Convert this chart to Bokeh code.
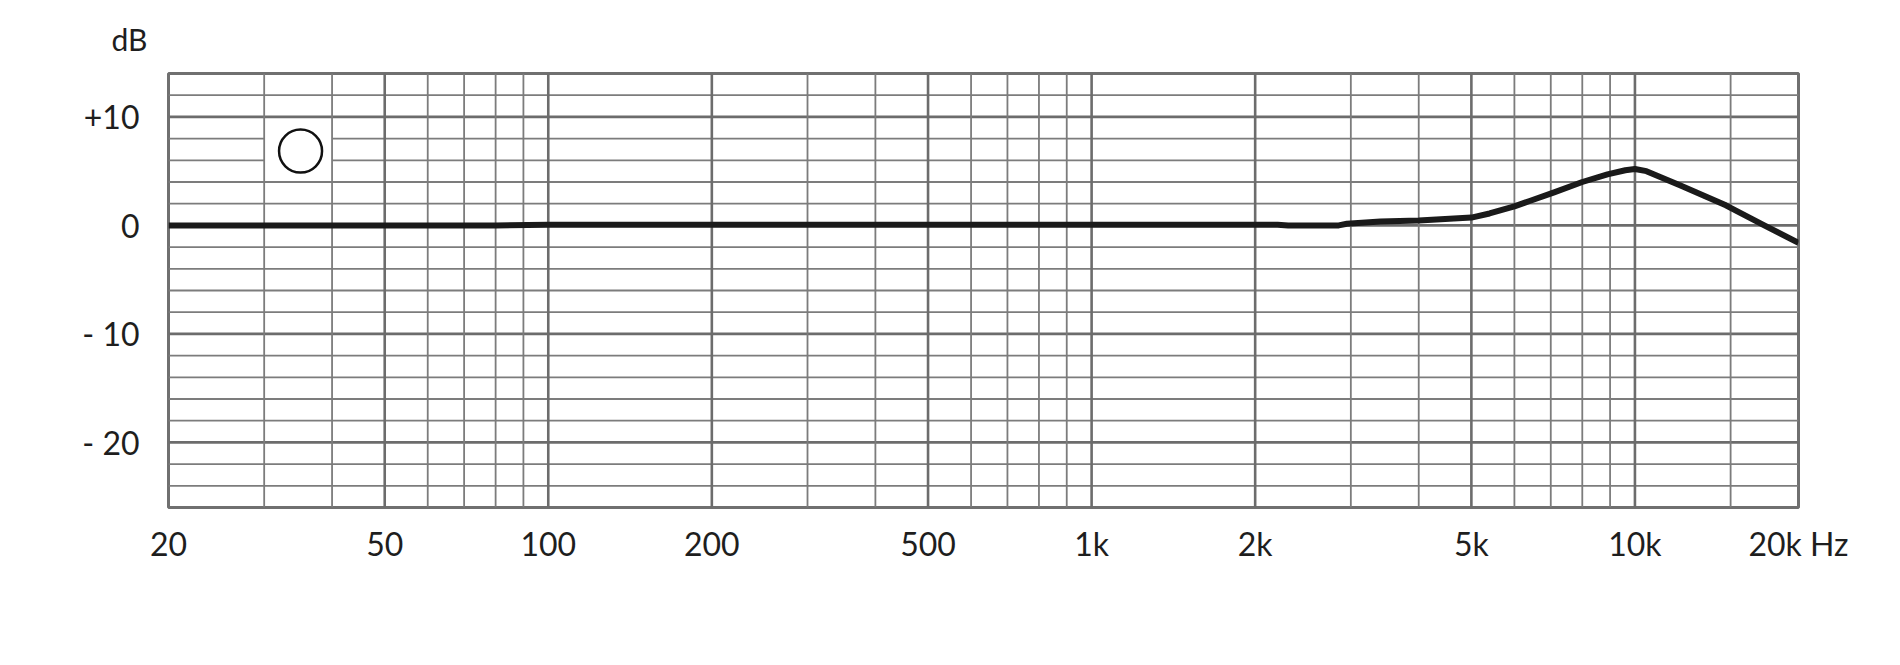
"""Reponse en frequence d'un micro omnidirectionnel, grille log 20 Hz - 20 kHz."""

from bokeh.embed import file_html
from bokeh.models import FixedTicker, Range1d
from bokeh.plotting import figure
from bokeh.resources import INLINE

# courbe (Hz, dB)
FREQ_HZ = [20, 80, 100, 200, 500, 1000, 2200, 2300, 2850, 2950, 3400, 4000, 5000,
           5400, 6000, 6400, 7100, 8000, 8900, 9600, 10000, 10500, 12100, 14700,
           17300, 20000]
LEVEL_DB = [0.0, 0.0, 0.07, 0.07, 0.07, 0.07, 0.07, 0.0, 0.0, 0.15, 0.35, 0.45, 0.72,
            1.1, 1.75, 2.25, 3.05, 4.0, 4.7, 5.08, 5.2, 5.0, 3.7, 1.85,
            0.0, -1.6]

# grille
DB_MINOR = [-24, -22, -18, -16, -14, -12, -8, -6, -4, -2, 2, 4, 6, 8, 12]
DB_MAJOR = [-20, -10, 0, 10]
HZ_MINOR = [30, 40, 60, 70, 80, 90, 300, 400, 600, 700, 800, 900,
            3000, 4000, 6000, 7000, 8000, 9000, 15000]
HZ_MAJOR = [50, 100, 200, 500, 1000, 2000, 5000, 10000]

# etiquettes
HZ_TICKS = [20, 50, 100, 200, 500, 1000, 2000, 5000, 10000, 20000]
HZ_LABELS = ["20", "50", "100", "200", "500", "1k", "2k", "5k", "10k", "20k Hz"]
DB_TICKS = [10, 0, -10, -20]
DB_LABELS = ["+10", "0", "- 10", "- 20"]

F_MIN, F_MAX = 20, 20000
DB_MIN, DB_MAX = -26, 14
FONT = "Lato"
TEXT_COLOR = "#1e1e1e"

p = figure(
    width=1884,
    height=649,
    x_axis_type="log",
    x_range=Range1d(F_MIN, F_MAX),
    y_range=Range1d(DB_MIN, DB_MAX),
    output_backend="svg",
    toolbar_location=None,
    min_border_left=168,
    min_border_right=86,
    min_border_top=73,
    min_border_bottom=142,
)
p.xgrid.visible = False
p.ygrid.visible = False
p.background_fill_color = "white"
p.border_fill_color = "white"
p.outline_line_color = "#707070"
p.outline_line_width = 3

# lignes horizontales
p.segment(x0=[F_MIN] * len(DB_MINOR), y0=DB_MINOR, x1=[F_MAX] * len(DB_MINOR), y1=DB_MINOR,
          line_color="#7c7c7c", line_width=1.8)
p.segment(x0=[F_MIN] * len(DB_MAJOR), y0=DB_MAJOR, x1=[F_MAX] * len(DB_MAJOR), y1=DB_MAJOR,
          line_color="#6c6c6c", line_width=2.6)

# case blanche du symbole omni
p.quad(left=[30], right=[40], bottom=[5], top=[9], fill_color="white", line_color=None)

# lignes verticales
p.segment(x0=HZ_MINOR, y0=[DB_MIN] * len(HZ_MINOR), x1=HZ_MINOR, y1=[DB_MAX] * len(HZ_MINOR),
          line_color="#7c7c7c", line_width=1.8)
p.segment(x0=HZ_MAJOR, y0=[DB_MIN] * len(HZ_MAJOR), x1=HZ_MAJOR, y1=[DB_MAX] * len(HZ_MAJOR),
          line_color="#6c6c6c", line_width=2.6)

p.line(FREQ_HZ, LEVEL_DB, line_width=6, line_color="#1a1a1a", line_join="round")

# symbole omnidirectionnel
p.scatter([35], [6.85], marker="circle", size=43, fill_color=None,
          line_color="#111111", line_width=2.5)

# axe x
p.xaxis.ticker = FixedTicker(ticks=HZ_TICKS, minor_ticks=[])
p.xaxis.major_label_overrides = {t: lab for t, lab in zip(HZ_TICKS, HZ_LABELS)}

# axe y
p.yaxis.ticker = FixedTicker(ticks=DB_TICKS, minor_ticks=[])
p.yaxis.major_label_overrides = {t: lab for t, lab in zip(DB_TICKS, DB_LABELS)}

for ax in (p.xaxis, p.yaxis):
    ax.axis_line_color = None
    ax.major_tick_line_color = None
    ax.minor_tick_line_color = None
    ax.major_label_text_font = FONT
    ax.major_label_text_font_size = "32px"
    ax.major_label_text_color = TEXT_COLOR
p.xaxis.major_label_standoff = 10
p.yaxis.major_label_standoff = 23

# unite en haut a gauche
p.title.text = "dB"
p.title.align = "left"
p.title.offset = -57
p.title.standoff = 34
p.title.text_font = FONT
p.title.text_font_size = "30px"
p.title.text_font_style = "normal"
p.title.text_color = TEXT_COLOR

open("out.html", "w").write(file_html(p, INLINE))
